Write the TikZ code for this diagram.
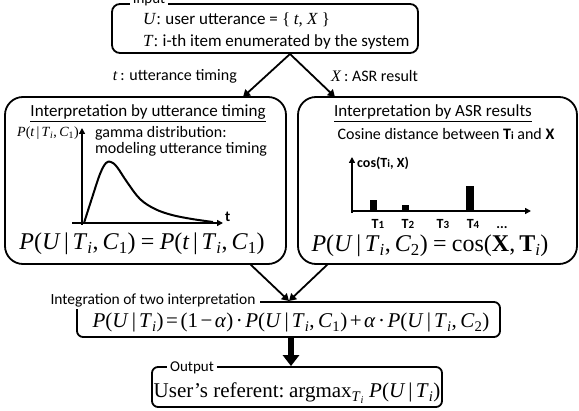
\documentclass[tikz,border=0pt]{standalone}
\usepackage{fontspec}
\setmainfont{Liberation Serif}
\newfontfamily\sfc{Carlito}
\usetikzlibrary{arrows.meta}
\newcommand{\vi}[1]{\textit{#1}}
\newcommand{\fs}[1]{\fontsize{#1}{#1}\selectfont}
\newcommand{\Ti}{\vi{T}\textsubscript{\vi{i}}}
\newcommand{\Cs}[1]{\vi{C}\textsubscript{#1}}
\newcommand{\vb}{\hspace{0.15em}|\hspace{0.15em}}
\newcommand{\gp}{\hspace{0.22em}}
\newcommand{\gq}{\hspace{0.12em}}
\newcommand{\smi}[1]{{\fs{11}#1}}
\begin{document}
\begin{tikzpicture}[x=1pt,y=-1pt,
  box/.style={draw, line width=1.8pt, rounded corners=#1, inner sep=0pt},
  conn/.style={line width=1.8pt, -{Triangle[width=8pt,length=7pt]}},
  bigarr/.style={line width=6pt, -{Triangle[width=16pt,length=11pt]}},
  axis/.style={line width=1.8pt, -{Triangle[width=6pt,length=6pt]}},
  ttl/.style={fill=white, inner xsep=3pt, inner ysep=1pt, font=\sfc\fs{15}},
  txt/.style={inner sep=0pt},
  bar/.style={fill=black, draw=none}]
\useasboundingbox (0,0) rectangle (579,411);

% boxes
\node[box=8pt, minimum width=306pt, minimum height=49pt] (input) at (265,28.5) {};
\node[box=18pt, minimum width=281pt, minimum height=167pt] (left) at (145.5,180.5) {};
\node[box=18pt, minimum width=279pt, minimum height=167pt] (right) at (437.5,180.5) {};
\node[box=6pt, minimum width=423pt, minimum height=35pt] (integ) at (288.5,319.5) {};
\node[box=6pt, minimum width=290pt, minimum height=40pt] (output) at (297,387) {};

% titles breaking borders
\node[ttl, anchor=base] (intitle) at (149,4) {Input};
\node[ttl, anchor=base, inner xsep=5pt] (integtitle) at (153,305) {\fs{15.5}Integration of two interpretation};
\node[ttl, anchor=base] (outtitle) at (192,372) {Output};

% input text
\node[txt, anchor=base west] (line1) at (143,25) {\fs{17}\vi{U}: {\sfc user utterance =} \{\gp\vi{t}, \vi{X}\gp\}};
\node[txt, anchor=base west] (line2) at (143,47) {\fs{17}\vi{T}: {\sfc i-th item enumerated by the system}};

% split arrows
\coordinate (top) at (290,54);
\coordinate (lin) at (243,97);
\coordinate (rin) at (335,97);
\draw[conn] (top) -- (lin);
\draw[conn] (top) -- (rin);
\node[txt, anchor=base east] (tlab) at (237,81) {\fs{16}\vi{t}\,{\sfc: utterance timing}};
\node[txt, anchor=base west] (xlab) at (331,82) {\fs{16}\vi{X}\,{\sfc: ASR result}};

% left box contents
\node[txt, anchor=base] (ltitle) at (148,117) {\sfc\fs{17}\underline{Interpretation by utterance timing}};
\draw[axis] (82,225) -- (82,128);
\draw[axis] (72,223) -- (223,223);
\draw[line width=2pt, line join=round] plot[smooth, tension=0.6] coordinates {(84,223) (92,198) (100,174) (106,163) (111,162) (117,167) (127,182) (140,199) (155,209) (172,215) (192,219) (213,222)};
\node[txt, anchor=east] (plab) at (79,133) {\fs{14}\vi{P}(\vi{t}\vb\Ti,\,\Cs{1})};
\node[txt, anchor=base west] (gam1) at (95,138) {\sfc\fs{16}gamma distribution:};
\node[txt, anchor=base west] (gam2) at (95,154) {\sfc\fs{16}modeling utterance timing};
\node[txt, anchor=base west] (tax) at (225,222) {\sfc\bfseries\fs{15}t};
\node[txt, anchor=base] (lform) at (142,250) {\fs{24}\vi{P}(\vi{U}\vb\Ti,\,\Cs{1})\gp=\gp\vi{P}(\vi{t}\vb\Ti,\,\Cs{1})};

% right box contents
\node[txt, anchor=base] (rtitle) at (433,117) {\sfc\fs{17}\underline{Interpretation by ASR results}};
\node[txt, anchor=base] (cosd) at (446,140) {\sfc\fs{16}Cosine distance between \textbf{T\smi{i}} and \textbf{X}};
\draw[axis] (352,213) -- (352,157);
\draw[axis] (351,211) -- (531,211);
\node[txt, anchor=base west] (coslab) at (357,168) {\sfc\bfseries\fs{14}cos(T\smi{i}, X)};
\fill[bar] (370,200) rectangle (377,211);
\fill[bar] (402,205) rectangle (409,211);
\fill[bar] (466,186) rectangle (474,211);
\node[txt, anchor=base] (t1) at (378,229) {\sfc\bfseries\fs{14}T\smi{1}};
\node[txt, anchor=base] (t2) at (408,229) {\sfc\bfseries\fs{14}T\smi{2}};
\node[txt, anchor=base] (t3) at (443,229) {\sfc\bfseries\fs{14}T\smi{3}};
\node[txt, anchor=base] (t4) at (473,229) {\sfc\bfseries\fs{14}T\smi{4}};
\node[txt, anchor=base] (dots) at (502,229) {\sfc\bfseries\fs{14}...};
\node[txt, anchor=base] (rform) at (430,252) {\fs{24}\vi{P}(\vi{U}\vb\Ti,\,\Cs{2})\gp=\gp cos(\textbf{X},\,\textbf{T}\textsubscript{\vi{i}})};

% merge arrows
\coordinate (lout) at (250,264);
\coordinate (rout) at (328,264);
\coordinate (merge) at (289,301);
\draw[conn] (lout) -- (merge);
\draw[conn] (rout) -- (merge);

% integration formula
\node[txt, anchor=base] (iform) at (291,328) {\fs{21}\vi{P}(\vi{U}\vb\Ti)\gq=\gq(1\gq−\gq\vi{α})\gq·\gq\vi{P}(\vi{U}\vb\Ti,\,\Cs{1})\gq+\gq\vi{α}\gq·\gq\vi{P}(\vi{U}\vb\Ti,\,\Cs{2})};

% output
\draw[bigarr] (integ.south -| 291,0) -- (output.north -| 291,0);
\node[txt, anchor=base] (otext) at (297,398) {\fs{21}User's referent:\gp argmax\textsubscript{\Ti}\gp\vi{P}(\vi{U}\vb\Ti)};
\end{tikzpicture}
\end{document}
